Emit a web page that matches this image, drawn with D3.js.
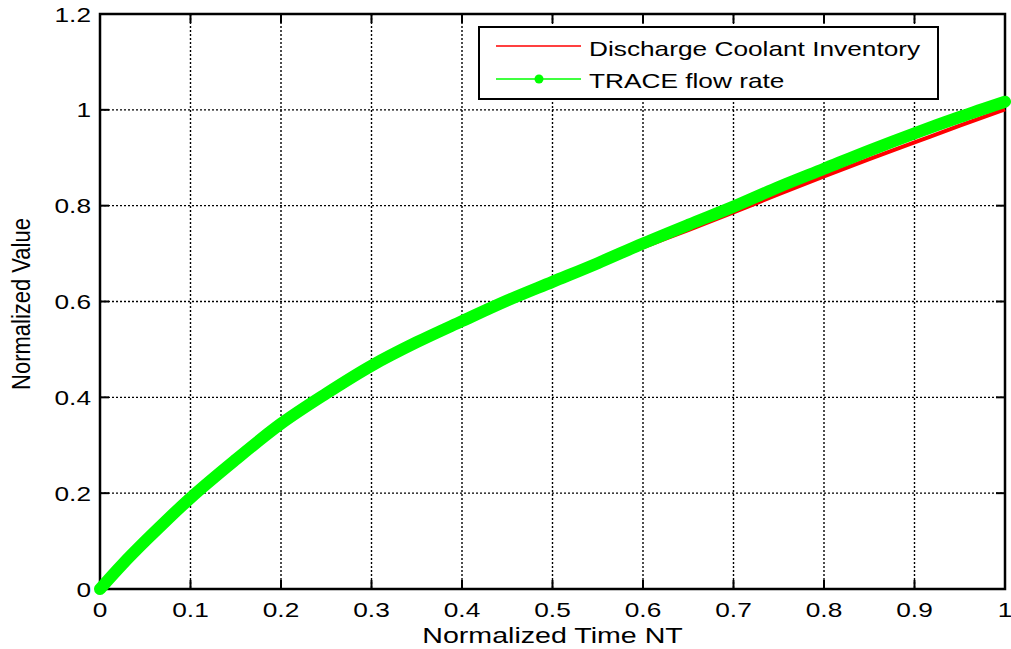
<!DOCTYPE html>
<html><head><meta charset="utf-8">
<script src="https://cdn.jsdelivr.net/npm/d3@7"></script>
<style>
html,body{margin:0;padding:0;background:#fff;}
text{font-family:"Liberation Sans",Arial,sans-serif;fill:#000;}
</style></head>
<body>
<svg id="chart" width="1011" height="649"></svg>
<script>
// Data
const timeNT      = [0, 0.025, 0.05, 0.075, 0.1, 0.15, 0.2, 0.25, 0.3, 0.35, 0.4, 0.45, 0.5, 0.55, 0.6, 0.65, 0.7, 0.75, 0.8, 0.85, 0.9, 0.95, 1.0];
const traceFlow   = [0, 0.052, 0.100, 0.146, 0.190, 0.270, 0.345, 0.408, 0.466, 0.515, 0.559, 0.602, 0.641, 0.680, 0.721, 0.760, 0.798, 0.839, 0.877, 0.915, 0.951, 0.985, 1.017];
const dischargeInv= [0, 0.052, 0.100, 0.146, 0.190, 0.270, 0.345, 0.408, 0.466, 0.515, 0.559, 0.602, 0.640, 0.676, 0.713, 0.749, 0.786, 0.824, 0.861, 0.897, 0.932, 0.967, 1.001];
const xTicks = [0, 0.1, 0.2, 0.3, 0.4, 0.5, 0.6, 0.7, 0.8, 0.9, 1];
const yTicks = [0, 0.2, 0.4, 0.6, 0.8, 1, 1.2];
const seriesNames = ["Discharge Coolant Inventory", "TRACE flow rate"];
const xLabel = "Normalized Time NT";
const yLabel = "Normalized Value";

const svg = d3.select("#chart");
const L = 100, R = 1005, T = 14, B = 589;
const x = d3.scaleLinear().domain([0, 1]).range([L, R]);
const y = d3.scaleLinear().domain([0, 1.2]).range([B, T]);
const sx = 1.25;

// grid
const grid = svg.append("g");
xTicks.slice(1, -1).forEach(v => grid.append("line")
  .attr("x1", x(v)).attr("x2", x(v)).attr("y1", T).attr("y2", B)
  .attr("stroke", "#000").attr("stroke-width", 1.4).attr("stroke-dasharray", "2,2"));
yTicks.slice(1, -1).forEach(v => grid.append("line")
  .attr("y1", y(v)).attr("y2", y(v)).attr("x1", L).attr("x2", R)
  .attr("stroke", "#000").attr("stroke-width", 1.4).attr("stroke-dasharray", "2,2"));

// ticks (inward, all sides)
xTicks.forEach(v => {
  svg.append("line").attr("x1", x(v)).attr("x2", x(v)).attr("y1", B).attr("y2", B - 9).attr("stroke", "#000").attr("stroke-width", 2);
  svg.append("line").attr("x1", x(v)).attr("x2", x(v)).attr("y1", T).attr("y2", T + 9).attr("stroke", "#000").attr("stroke-width", 2);
  svg.append("text").attr("transform", `translate(${x(v)},617) scale(${sx},1)`)
    .attr("text-anchor", "middle").attr("font-size", 21).text(d3.format("~g")(v));
});
yTicks.forEach(v => {
  svg.append("line").attr("y1", y(v)).attr("y2", y(v)).attr("x1", L).attr("x2", L + 9).attr("stroke", "#000").attr("stroke-width", 2);
  svg.append("line").attr("y1", y(v)).attr("y2", y(v)).attr("x1", R).attr("x2", R - 9).attr("stroke", "#000").attr("stroke-width", 2);
  svg.append("text").attr("transform", `translate(91,${y(v) + 7.5}) scale(${sx},1)`)
    .attr("text-anchor", "end").attr("font-size", 21).text(d3.format("~g")(v));
});

// frame
svg.append("rect").attr("x", L).attr("y", T).attr("width", R - L).attr("height", B - T)
  .attr("fill", "none").attr("stroke", "#000").attr("stroke-width", 2.5);

// series
const line = d3.line().x((d, i) => x(timeNT[i])).y(d => y(d)).curve(d3.curveMonotoneX);
svg.append("path").datum(dischargeInv).attr("d", line)
  .attr("fill", "none").attr("stroke", "#ff0000").attr("stroke-width", 4);
svg.append("path").datum(traceFlow).attr("d", line)
  .attr("fill", "none").attr("stroke", "#00ff00").attr("stroke-width", 12)
  .attr("stroke-linecap", "round").attr("stroke-linejoin", "round");

// axis labels
svg.append("text").attr("transform", `translate(${(L + R) / 2},643) scale(1.3,1)`)
  .attr("text-anchor", "middle").attr("font-size", 22).text(xLabel);
svg.append("text").attr("transform", `translate(30,304) scale(1.2,1) rotate(-90)`)
  .attr("text-anchor", "middle").attr("font-size", 22).text(yLabel);

// legend
const lg = svg.append("g");
lg.append("rect").attr("x", 479).attr("y", 27).attr("width", 459).attr("height", 72)
  .attr("fill", "#fff").attr("stroke", "#000").attr("stroke-width", 2);
lg.append("line").attr("x1", 496).attr("x2", 581).attr("y1", 46).attr("y2", 46).attr("stroke", "#ff0000").attr("stroke-width", 1.5);
lg.append("line").attr("x1", 496).attr("x2", 581).attr("y1", 79).attr("y2", 79).attr("stroke", "#00ff00").attr("stroke-width", 1.5);
lg.append("circle").attr("cx", 539).attr("cy", 79).attr("r", 4.5).attr("fill", "#00ff00");
lg.append("text").attr("transform", `translate(589,56) scale(${sx},1)`).attr("font-size", 21).text(seriesNames[0]);
lg.append("text").attr("transform", `translate(589,88) scale(${sx},1)`).attr("font-size", 21).text(seriesNames[1]);
</script>
</body></html>
